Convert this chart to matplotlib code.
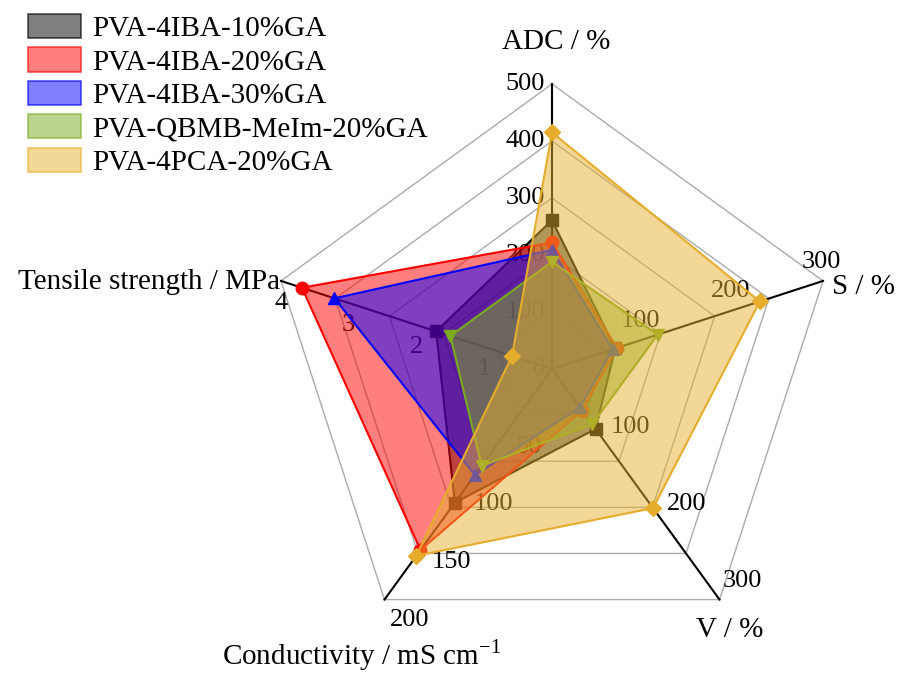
import matplotlib.pyplot as plt
from matplotlib.patches import Patch
import numpy as np

plt.rcParams['font.family'] = 'Liberation Serif'
plt.rcParams['mathtext.fontset'] = 'custom'
plt.rcParams['mathtext.rm'] = 'Liberation Serif'

# axes of the radar: name, max value, tick labels
axis_names = ["ADC / %", "S / %", "V / %", "Conductivity / mS cm$^{\\mathregular{-1}}$",
              "Tensile strength / MPa"]
axis_max = [500, 300, 300, 200, 4]
axis_ticks = [[0, 100, 200, 300, 400, 500],
              [100, 200, 300],
              [100, 200, 300],
              [50, 100, 150, 200],
              [1, 2, 3, 4]]

series = ["PVA-4IBA-10%GA", "PVA-4IBA-20%GA", "PVA-4IBA-30%GA",
          "PVA-QBMB-MeIm-20%GA", "PVA-4PCA-20%GA"]
adc = [261, 222, 209, 188, 415]
swell = [70, 72, 67, 117, 230]
vol = [78, 54, 50, 72, 181]
cond = [116, 157, 92, 84, 162]
tensile = [1.71, 3.69, 3.21, 1.50, 0.59]

face = [(0, 0, 0), (1, 0, 0), (0, 0, 1), (0.48, 0.68, 0.12), (0.90, 0.69, 0.19)]
edge = ["black", "red", "blue", "#7aab1e", "#e6ad2c"]
markers = ["s", "o", "^", "v", "D"]

W, H = 897, 674
cx, cy, R = 552, 369, 285

fig = plt.figure(figsize=(W / 100, H / 100), dpi=100)
ax = fig.add_axes([0, 0, 1, 1])
ax.set_xlim(-cx / R, (W - cx) / R)
ax.set_ylim(-(H - cy) / R, cy / R)
ax.axis("off")

ang = np.deg2rad(np.arange(5) * 72)
ux, uy = np.sin(ang), np.cos(ang)
px = 1 / R  # one pixel in data units

# grid pentagons
for k in range(1, 6):
    f = k / 5
    ax.plot(np.append(ux, ux[0]) * f, np.append(uy, uy[0]) * f,
            color="#ababab", lw=1, zorder=1)
# spokes
for i in range(5):
    ax.plot([0, ux[i]], [0, uy[i]], color="black", lw=1.5, zorder=2)

# tick labels
tfs = 19
for i in range(5):
    for t in axis_ticks[i]:
        f = t / axis_max[i]
        x, y = ux[i] * f, uy[i] * f
        if i == 0:
            ax.text(x - 7 * px, y, str(t), ha="right", va="center", fontsize=tfs, zorder=2)
        elif i == 1:
            ax.text(x - 2 * px, y + 19 * px, str(t), ha="center", va="center", fontsize=tfs, zorder=2)
        elif i == 2:
            ax.text(x + 3 * px, y + 19 * px, str(t), ha="left", va="center", fontsize=tfs, zorder=2)
        elif i == 3:
            ax.text(x + 5 * px, y - 20 * px, str(t), ha="left", va="center", fontsize=tfs, zorder=2)
        else:
            ax.text(x, y - 22 * px, str(t), ha="center", va="center", fontsize=tfs, zorder=2)

# axis titles
ax.text((556 - cx) / R, (cy - 42) / R, axis_names[0], ha="center", va="center", fontsize=21)
ax.text((832 - cx) / R, (cy - 287) / R, axis_names[1], ha="left", va="center", fontsize=21)
ax.text((730 - cx) / R, (cy - 630) / R, axis_names[2], ha="center", va="center", fontsize=21)
ax.text((222 - cx) / R, (cy - 655) / R, axis_names[3], ha="left", va="center", fontsize=21)
ax.text((280 - cx) / R, (cy - 282) / R, axis_names[4], ha="right", va="center", fontsize=21)

# series
data = np.array([adc, swell, vol, cond, tensile], dtype=float).T
handles = []
for j in range(len(series)):
    f = data[j] / np.array(axis_max)
    xs, ys = ux * f, uy * f
    ax.fill(xs, ys, facecolor=face[j] + (0.5,), edgecolor="none", zorder=3 + j)
    ax.plot(np.append(xs, xs[0]), np.append(ys, ys[0]), color=edge[j], lw=1.5,
            marker=markers[j], markersize=9 if markers[j] != "D" else 8,
            markevery=list(range(5)), zorder=3 + j)
    handles.append(Patch(facecolor=face[j] + (0.5,), edgecolor=face[j] + (0.65,),
                         lw=1.2, label=series[j]))

fig.legend(handles=handles, loc="upper left", bbox_to_anchor=(28 / W, 1 - 14 / H),
           frameon=False, fontsize=21, handlelength=1.8, handleheight=0.9,
           handletextpad=0.4, labelspacing=0.18, borderpad=0, borderaxespad=0)

fig.savefig("out.png", dpi=100)
